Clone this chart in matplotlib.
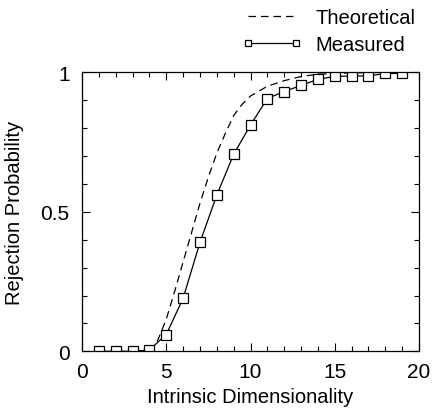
import matplotlib
matplotlib.use("Agg")
import matplotlib.pyplot as plt
from matplotlib.ticker import MultipleLocator, FixedLocator, FixedFormatter

plt.rcParams['font.family'] = ['Liberation Sans', 'DejaVu Sans']

# Measured data
meas_x = [1, 2, 3, 4, 5, 6, 7, 8, 9, 10, 11, 12, 13, 14, 15, 16, 17, 18, 19]
meas_y = [0.0, 0.0, 0.0, 0.005, 0.06, 0.19, 0.39, 0.56, 0.706, 0.811, 0.906,
          0.931, 0.953, 0.975, 0.985, 0.987, 0.987, 0.996, 0.996]

# Theoretical curve
theo_x = [4, 4.5, 5, 5.5, 6, 6.5, 7, 7.5, 8, 8.5, 9, 9.5, 10, 11, 12, 13, 14, 15, 16, 18, 20]
theo_y = [0.0, 0.04, 0.115, 0.215, 0.32, 0.425, 0.53, 0.625, 0.71, 0.78, 0.845,
          0.885, 0.915, 0.95, 0.97, 0.985, 0.993, 0.996, 0.998, 1.0, 1.0]

x_major = [0, 5, 10, 15, 20]
y_major = [0, 0.5, 1]
y_labels = ["0", "0.5", "1"]

W, H = 432, 410
fig = plt.figure(figsize=(W / 100, H / 100), dpi=100)
ax = fig.add_axes([82 / W, (H - 352.3) / H, 337 / W, 279 / H])

ax.plot(theo_x, theo_y, color='black', linestyle=(0, (6, 4)), linewidth=0.9,
        label='Theoretical')
ax.plot(meas_x, meas_y, color='black', linewidth=0.9, marker='s', markersize=7.5,
        markerfacecolor='white', markeredgecolor='black', markeredgewidth=0.9,
        label='Measured')

ax.set_xlim(0, 20)
ax.set_ylim(0, 1)
ax.xaxis.set_major_locator(FixedLocator(x_major))
ax.xaxis.set_minor_locator(MultipleLocator(1))
ax.yaxis.set_major_locator(FixedLocator(y_major))
ax.yaxis.set_major_formatter(FixedFormatter(y_labels))
ax.yaxis.set_minor_locator(MultipleLocator(0.1))
ax.tick_params(which='both', direction='in', top=True, right=True, labelsize=15,
               width=0.8)
ax.tick_params(which='major', length=6)
ax.tick_params(which='minor', length=3.5)
ax.tick_params(axis='x', which='major', pad=8)
ax.tick_params(axis='y', which='major', pad=9)
for s in ax.spines.values():
    s.set_linewidth(0.9)

ax.set_xlabel('Intrinsic Dimensionality', fontsize=14.5)
ax.xaxis.set_label_coords(0.5, -0.128)
ax.set_ylabel('Rejection Probability', fontsize=14.5)
ax.yaxis.set_label_coords(-0.172, 0.5)

leg = fig.legend(loc='upper right', bbox_to_anchor=(415 / W, 1 - 9 / H),
                 frameon=False, fontsize=14.5, handlelength=3.0,
                 handletextpad=0.65, labelspacing=0.42, markerscale=0.65,
                 numpoints=2, borderaxespad=0.0, borderpad=0.0)

fig.savefig('out.png', dpi=100)
